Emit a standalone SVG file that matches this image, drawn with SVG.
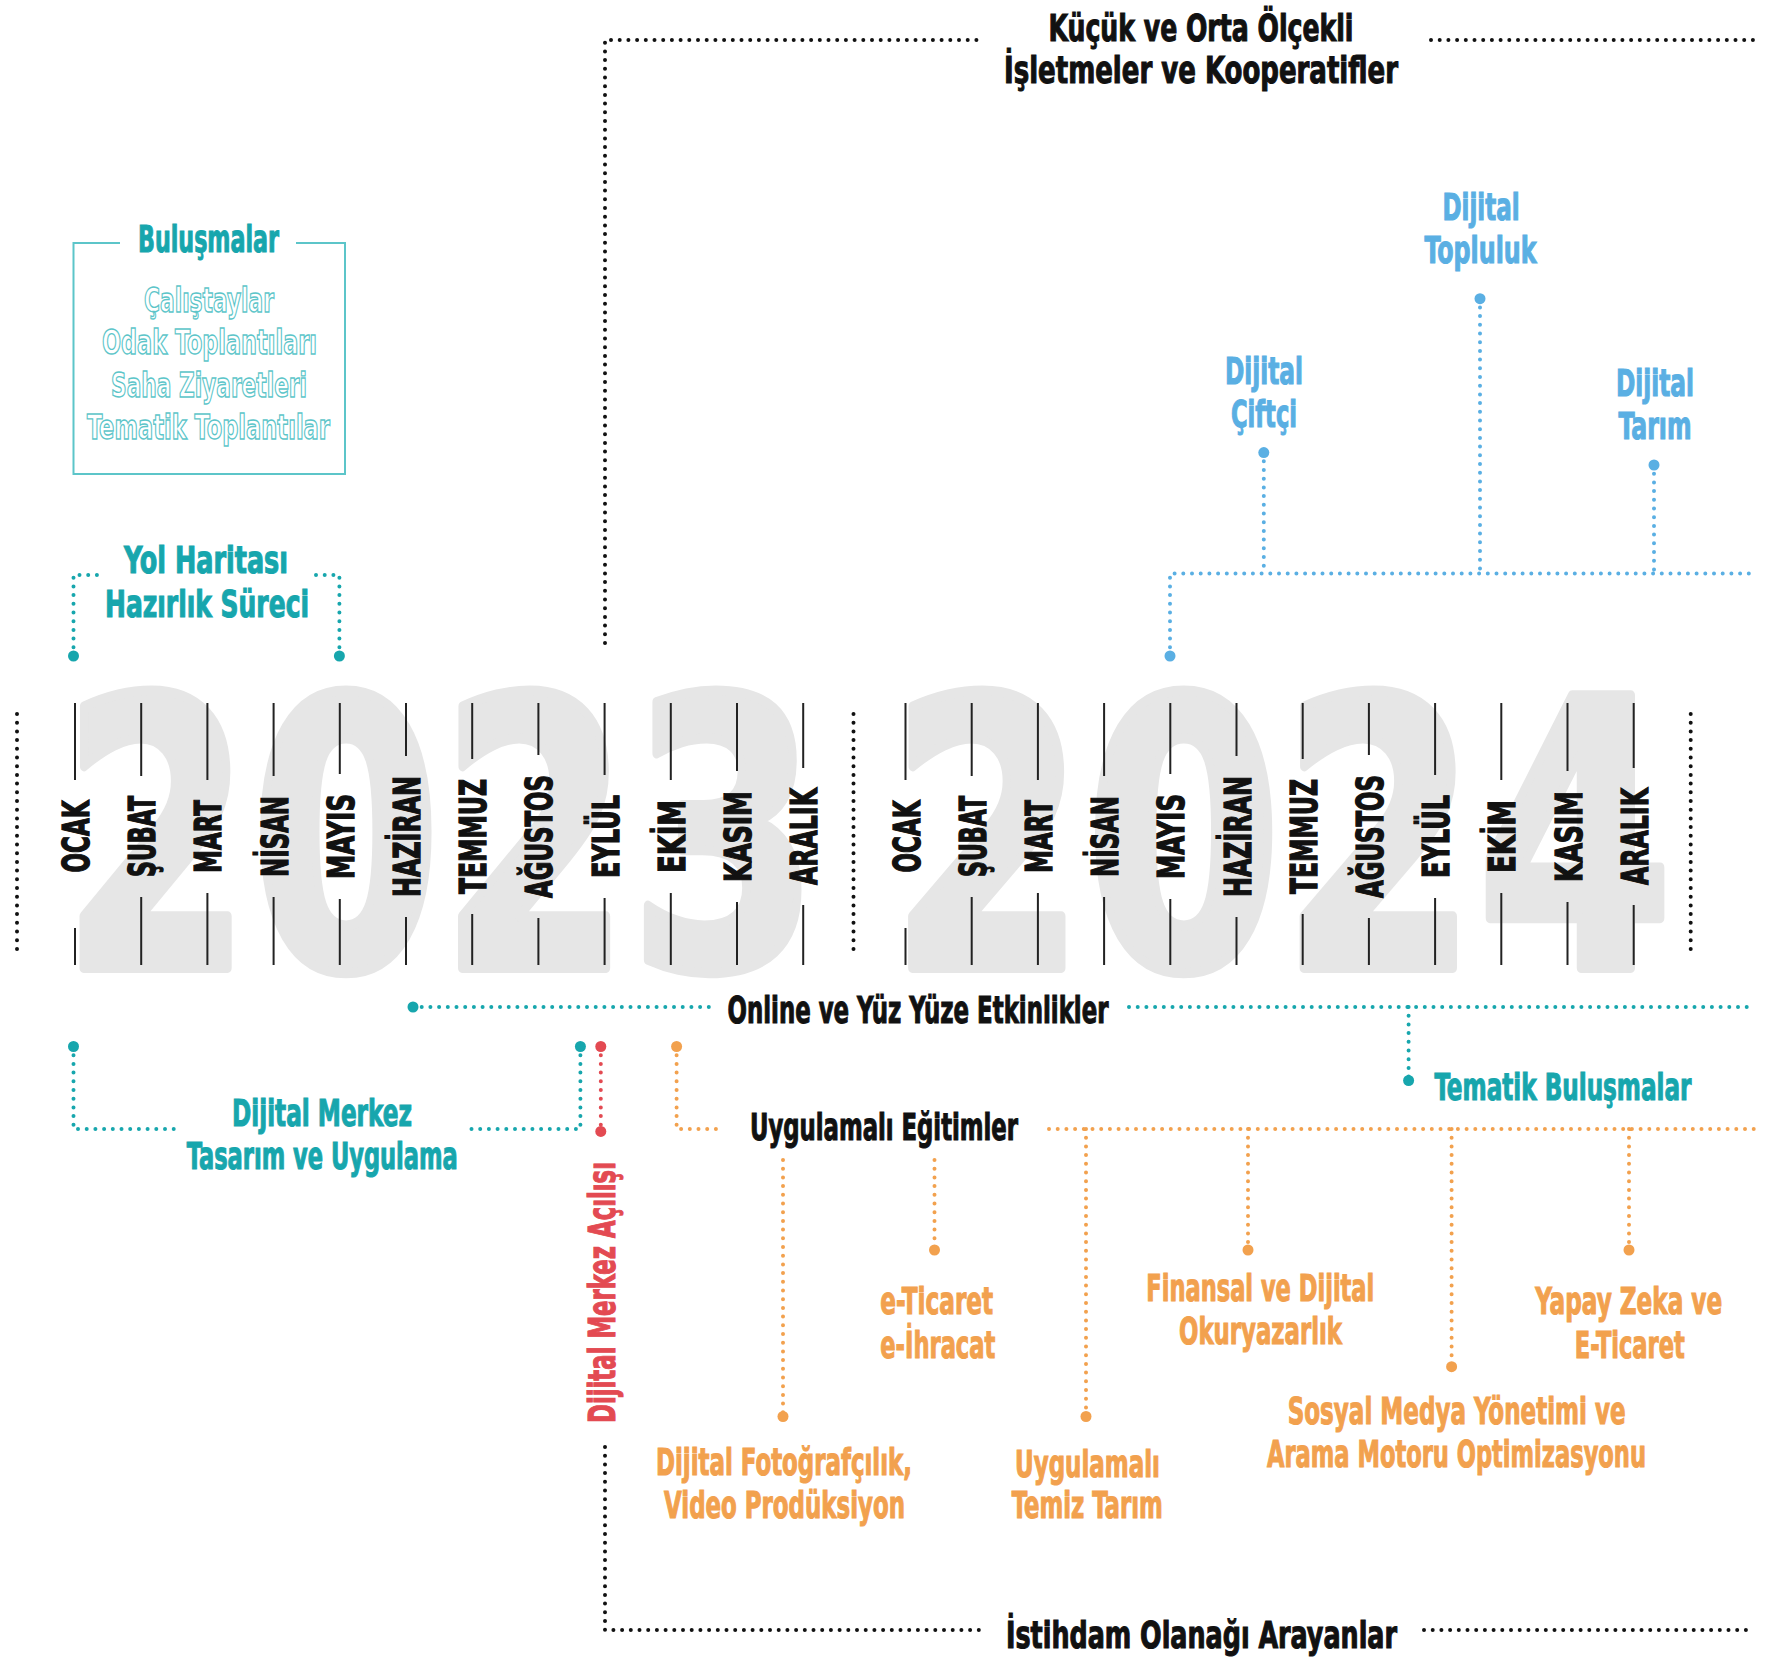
<svg xmlns="http://www.w3.org/2000/svg" width="1774" height="1658" viewBox="0 0 1774 1658">
<style>
.t{font-family:"DejaVu Sans Condensed","DejaVu Sans",sans-serif;font-weight:bold;text-anchor:middle;font-size:38px;stroke-width:1.1px}
.blk{fill:#111;stroke:#111}
.teal{fill:#17a6ad;stroke:#17a6ad}
.blue{fill:#5aafe3;stroke:#5aafe3}
.org{fill:#f2a14e;stroke:#f2a14e}
.red{fill:#e34a52;stroke:#e34a52}
.out{fill:#fff;stroke:#5cc5c9;stroke-width:1.4px;font-size:33px}
.mon{font-size:38px;fill:#111;stroke:#111;stroke-width:1.3px}
.yr{font-family:"DejaVu Sans Condensed","DejaVu Sans",sans-serif;font-weight:bold;font-size:374px;fill:#e6e6e6;stroke:#e6e6e6;stroke-width:10px;stroke-linejoin:round;text-anchor:start}
.d{fill:none;stroke-width:4;stroke-dasharray:0 8.7;stroke-linecap:round}
.dk{stroke:#111}
.dt{stroke:#17a6ad}
.db{stroke:#5aafe3}
.do{stroke:#f2a14e}
.dr{stroke:#e34a52}
.tick{stroke:#222;stroke-width:2;fill:none}
</style>
<rect width="1774" height="1658" fill="#fff"/>
<g id="years">
<text class="yr" x="62" y="968" textLength="757" lengthAdjust="spacingAndGlyphs">2023</text>
<text class="yr" x="890" y="968" textLength="783" lengthAdjust="spacingAndGlyphs">2024</text>
</g>
<g id="timeline">
<path class="tick" d="M75,703V780M75,928V965M141.2,703V776M141.2,897V965M207.4,703V780M207.4,893V965M273.6,703V776M273.6,897V965M339.8,703V774M339.8,899V965M406,703V756M406,917V965M472.2,703V759M472.2,914V965M538.4,703V755M538.4,918V965M604.6,703V775M604.6,898V965M670.8,703V780M670.8,893V965M737,703V771M737,902V965M803.2,703V768M803.2,905V965"/>
<path class="tick" d="M905.5,703V780M905.5,928V965M971.7,703V776M971.7,897V965M1037.9,703V780M1037.9,893V965M1104.1,703V776M1104.1,897V965M1170.3,703V774M1170.3,899V965M1236.5,703V756M1236.5,917V965M1302.7,703V759M1302.7,914V965M1368.9,703V755M1368.9,918V965M1435.1,703V775M1435.1,898V965M1501.3,703V780M1501.3,893V965M1567.5,703V771M1567.5,902V965M1633.7,703V768M1633.7,905V965"/>
<g class="t mon">
<text transform="translate(89,836.5) rotate(-90)" textLength="72" lengthAdjust="spacingAndGlyphs">OCAK</text>
<text transform="translate(155.2,836.5) rotate(-90)" textLength="81" lengthAdjust="spacingAndGlyphs">ŞUBAT</text>
<text transform="translate(221.4,836.5) rotate(-90)" textLength="73" lengthAdjust="spacingAndGlyphs">MART</text>
<text transform="translate(287.6,836.5) rotate(-90)" textLength="81" lengthAdjust="spacingAndGlyphs">NİSAN</text>
<text transform="translate(353.8,836.5) rotate(-90)" textLength="85" lengthAdjust="spacingAndGlyphs">MAYIS</text>
<text transform="translate(420,836.5) rotate(-90)" textLength="121" lengthAdjust="spacingAndGlyphs">HAZİRAN</text>
<text transform="translate(486.2,836.5) rotate(-90)" textLength="115" lengthAdjust="spacingAndGlyphs">TEMMUZ</text>
<text transform="translate(552.4,836.5) rotate(-90)" textLength="123" lengthAdjust="spacingAndGlyphs">AĞUSTOS</text>
<text transform="translate(618.6,836.5) rotate(-90)" textLength="83" lengthAdjust="spacingAndGlyphs">EYLÜL</text>
<text transform="translate(684.8,836.5) rotate(-90)" textLength="73" lengthAdjust="spacingAndGlyphs">EKİM</text>
<text transform="translate(751,836.5) rotate(-90)" textLength="91" lengthAdjust="spacingAndGlyphs">KASIM</text>
<text transform="translate(817.2,836.5) rotate(-90)" textLength="97" lengthAdjust="spacingAndGlyphs">ARALIK</text>
<text transform="translate(919.5,836.5) rotate(-90)" textLength="72" lengthAdjust="spacingAndGlyphs">OCAK</text>
<text transform="translate(985.7,836.5) rotate(-90)" textLength="81" lengthAdjust="spacingAndGlyphs">ŞUBAT</text>
<text transform="translate(1051.9,836.5) rotate(-90)" textLength="73" lengthAdjust="spacingAndGlyphs">MART</text>
<text transform="translate(1118.1,836.5) rotate(-90)" textLength="81" lengthAdjust="spacingAndGlyphs">NİSAN</text>
<text transform="translate(1184.3,836.5) rotate(-90)" textLength="85" lengthAdjust="spacingAndGlyphs">MAYIS</text>
<text transform="translate(1250.5,836.5) rotate(-90)" textLength="121" lengthAdjust="spacingAndGlyphs">HAZİRAN</text>
<text transform="translate(1316.7,836.5) rotate(-90)" textLength="115" lengthAdjust="spacingAndGlyphs">TEMMUZ</text>
<text transform="translate(1382.9,836.5) rotate(-90)" textLength="123" lengthAdjust="spacingAndGlyphs">AĞUSTOS</text>
<text transform="translate(1449.1,836.5) rotate(-90)" textLength="83" lengthAdjust="spacingAndGlyphs">EYLÜL</text>
<text transform="translate(1515.3,836.5) rotate(-90)" textLength="73" lengthAdjust="spacingAndGlyphs">EKİM</text>
<text transform="translate(1581.5,836.5) rotate(-90)" textLength="91" lengthAdjust="spacingAndGlyphs">KASIM</text>
<text transform="translate(1647.7,836.5) rotate(-90)" textLength="97" lengthAdjust="spacingAndGlyphs">ARALIK</text>
</g>
</g>
<g id="connectors">
<path class="d dk" d="M605,643V40H979M1431,40H1754M605,1447V1630H979M1424,1630H1754M17,714V953M853.5,714V953M1690.7,714V953"/>
<path class="d dt" d="M73.5,656V575H100M339.4,656V575H313M413,1007H713M1129,1007H1754M1408.6,1007V1080.5M73.5,1046.5V1129H181M580.4,1046.5V1129H466"/>
<path class="d db" d="M1170,656V573.6H1754M1263.8,452.6V573.6M1480,298.7V573.6M1654,465V573.6"/>
<path class="d dr" d="M600.8,1046.5V1131.4"/>
<path class="d do" d="M676.6,1046.5V1129H716M1049,1129H1754M1086,1129V1416.5M1248,1129V1250M1451.6,1129V1366.7M1629,1129V1250M934.5,1160V1250M783,1160V1416.5"/>
<g fill="#17a6ad"><circle cx="73.5" cy="656" r="5.5"/><circle cx="339.4" cy="656" r="5.5"/><circle cx="413" cy="1007" r="5.5"/><circle cx="1408.6" cy="1080.5" r="5.5"/><circle cx="73.5" cy="1046.5" r="5.5"/><circle cx="580.4" cy="1046.5" r="5.5"/></g>
<g fill="#5aafe3"><circle cx="1170" cy="656" r="5.5"/><circle cx="1263.8" cy="452.6" r="5.5"/><circle cx="1480" cy="298.7" r="5.5"/><circle cx="1654" cy="465" r="5.5"/></g>
<g fill="#e34a52"><circle cx="600.8" cy="1046.5" r="5.5"/><circle cx="600.8" cy="1131.4" r="5.5"/></g>
<g fill="#f2a14e"><circle cx="676.6" cy="1046.5" r="5.5"/><circle cx="1086" cy="1416.5" r="5.5"/><circle cx="1248" cy="1250" r="5.5"/><circle cx="1451.6" cy="1366.7" r="5.5"/><circle cx="1629" cy="1250" r="5.5"/><circle cx="934.5" cy="1250" r="5.5"/><circle cx="783" cy="1416.5" r="5.5"/></g>
</g>
<g id="kobi" class="t blk">
<text x="1201" y="41" textLength="305" lengthAdjust="spacingAndGlyphs">Küçük ve Orta Ölçekli</text>
<text x="1201" y="83" textLength="394" lengthAdjust="spacingAndGlyphs">İşletmeler ve Kooperatifler</text>
</g>
<g id="istihdam" class="t blk">
<text x="1201.5" y="1648" textLength="391" lengthAdjust="spacingAndGlyphs">İstihdam Olanağı Arayanlar</text>
</g>
<g id="bulusmalar">
<path d="M120,243H73.5V474H345V243H296" fill="none" stroke="#5cc5c9" stroke-width="2"/>
<text class="t teal" x="208.5" y="252" font-size="34" textLength="141" lengthAdjust="spacingAndGlyphs">Buluşmalar</text>
<text class="t out" x="209" y="312" textLength="130" lengthAdjust="spacingAndGlyphs">Çalıştaylar</text>
<text class="t out" x="209.5" y="354" textLength="215" lengthAdjust="spacingAndGlyphs">Odak Toplantıları</text>
<text class="t out" x="209" y="397" textLength="196" lengthAdjust="spacingAndGlyphs">Saha Ziyaretleri</text>
<text class="t out" x="208.5" y="439" textLength="243" lengthAdjust="spacingAndGlyphs">Tematik Toplantılar</text>
</g>
<g id="yol-haritasi" class="t teal">
<text x="206" y="572.5" textLength="164" lengthAdjust="spacingAndGlyphs">Yol Haritası</text>
<text x="207" y="616.5" textLength="204" lengthAdjust="spacingAndGlyphs">Hazırlık Süreci</text>
</g>
<g id="dijital-topluluk" class="t blue">
<text x="1481" y="219.5" textLength="77" lengthAdjust="spacingAndGlyphs">Dijital</text>
<text x="1480.5" y="262.5" textLength="112" lengthAdjust="spacingAndGlyphs">Topluluk</text>
</g>
<g id="dijital-ciftci" class="t blue">
<text x="1264" y="383.5" textLength="78" lengthAdjust="spacingAndGlyphs">Dijital</text>
<text x="1264" y="426.5" textLength="66" lengthAdjust="spacingAndGlyphs">Çiftçi</text>
</g>
<g id="dijital-tarim" class="t blue">
<text x="1655" y="396" textLength="78" lengthAdjust="spacingAndGlyphs">Dijital</text>
<text x="1655" y="439" textLength="73" lengthAdjust="spacingAndGlyphs">Tarım</text>
</g>
<g id="online" class="t blk">
<text x="918" y="1023" textLength="381" lengthAdjust="spacingAndGlyphs">Online ve Yüz Yüze Etkinlikler</text>
</g>
<g id="tematik" class="t teal">
<text x="1563" y="1099.7" textLength="257" lengthAdjust="spacingAndGlyphs">Tematik Buluşmalar</text>
</g>
<g id="dijital-merkez" class="t teal">
<text x="322" y="1125.7" textLength="180" lengthAdjust="spacingAndGlyphs">Dijital Merkez</text>
<text x="322.3" y="1168.7" textLength="271" lengthAdjust="spacingAndGlyphs">Tasarım ve Uygulama</text>
</g>
<g id="acilis" class="t red">
<text transform="translate(615,1292.5) rotate(-90)" textLength="261" lengthAdjust="spacingAndGlyphs">Dijital Merkez Açılışı</text>
</g>
<g id="uygulamali" class="t blk">
<text x="884" y="1140" textLength="268" lengthAdjust="spacingAndGlyphs">Uygulamalı Eğitimler</text>
</g>
<g id="eticaret" class="t org">
<text x="936.7" y="1313.6" textLength="113" lengthAdjust="spacingAndGlyphs">e-Ticaret</text>
<text x="937.8" y="1357.7" textLength="115" lengthAdjust="spacingAndGlyphs">e-İhracat</text>
</g>
<g id="finansal" class="t org">
<text x="1260.3" y="1301" textLength="228" lengthAdjust="spacingAndGlyphs">Finansal ve Dijital</text>
<text x="1260.5" y="1344" textLength="163" lengthAdjust="spacingAndGlyphs">Okuryazarlık</text>
</g>
<g id="yapay-zeka" class="t org">
<text x="1628.7" y="1313.6" textLength="187" lengthAdjust="spacingAndGlyphs">Yapay Zeka ve</text>
<text x="1629.8" y="1357.7" textLength="110" lengthAdjust="spacingAndGlyphs">E-Ticaret</text>
</g>
<g id="sosyal-medya" class="t org">
<text x="1456.7" y="1424.4" textLength="338" lengthAdjust="spacingAndGlyphs">Sosyal Medya Yönetimi ve</text>
<text x="1456.5" y="1467.4" textLength="379" lengthAdjust="spacingAndGlyphs">Arama Motoru Optimizasyonu</text>
</g>
<g id="fotografcilik" class="t org">
<text x="784" y="1475.4" textLength="256" lengthAdjust="spacingAndGlyphs">Dijital Fotoğrafçılık,</text>
<text x="784.5" y="1518.3" textLength="241" lengthAdjust="spacingAndGlyphs">Video Prodüksiyon</text>
</g>
<g id="temiz-tarim" class="t org">
<text x="1087.5" y="1476.5" textLength="145" lengthAdjust="spacingAndGlyphs">Uygulamalı</text>
<text x="1087.3" y="1518.3" textLength="151" lengthAdjust="spacingAndGlyphs">Temiz Tarım</text>
</g>
</svg>
